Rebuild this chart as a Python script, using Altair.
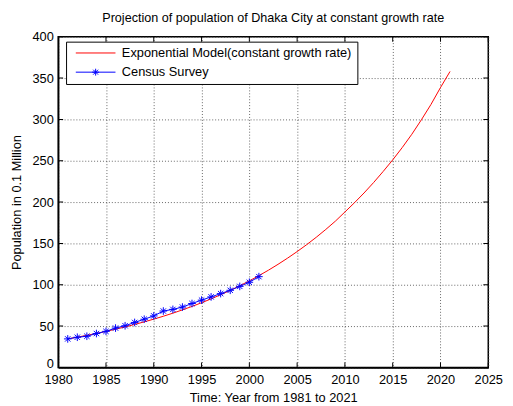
import altair as alt
import pandas as pd

MODEL = "Exponential Model(constant growth rate)"
CENSUS = "Census Survey"

model_years = list(range(1981, 2022))
model_values = [34.5, 36.6, 38.8, 41.1, 43.6, 46.2, 49.0, 52.0, 55.1, 58.4,
                61.9, 65.6, 69.6, 73.8, 78.2, 82.9, 87.9, 93.2, 98.8, 104.7,
                111.0, 117.6, 124.7, 132.2, 140.1, 148.5, 157.4, 166.9, 176.9, 188.0,
                199.2, 211.0, 223.6, 237.0, 251.0, 266.0, 282.0, 299.5, 318.0, 338.5,
                358.0]

census_years = list(range(1981, 2002))
census_values = [34.5, 36.5, 37.7, 41.0, 43.6, 47.6, 50.4, 54.4, 58.3, 62.3,
                 68.2, 70.2, 73.0, 77.3, 81.4, 85.3, 89.3, 93.3, 98.0, 103.0,
                 109.8]

x_ticks = list(range(1980, 2026, 5))
y_ticks = list(range(0, 401, 50))

model_df = pd.DataFrame({"year": model_years, "pop": model_values, "series": MODEL})
census_df = pd.DataFrame({"year": census_years, "pop": census_values, "series": CENSUS})
xtick_df = pd.DataFrame({"year": x_ticks})
ytick_df = pd.DataFrame({"pop": y_ticks})

W, H = 437, 336
FONT = "Liberation Sans"
STAR = "M0,-1V1M-1,0H1M-0.7,-0.7L0.7,0.7M-0.7,0.7L0.7,-0.7"
LEG_LINE = "M-0.32,0H7.74"
LEG_STAR = LEG_LINE + "M3.71,-0.7V0.7M3.01,0H4.41M3.21,-0.5L4.21,0.5M3.21,0.5L4.21,-0.5"

x_enc = alt.X("year:Q",
              scale=alt.Scale(domain=[1980, 2025], nice=False, zero=False),
              axis=alt.Axis(values=x_ticks, format="d", labelFlush=False,
                            title="Time: Year from 1981 to 2021"))
y_enc = alt.Y("pop:Q",
              scale=alt.Scale(domain=[0, 400], nice=False),
              axis=alt.Axis(values=y_ticks, labelFlush=False,
                            labelOffset={"condition": {"test": "datum.value === 0", "value": -4},
                                         "value": 0},
                            title="Population in 0.1 Million"))

color_scale = alt.Scale(domain=[MODEL, CENSUS], range=["#ff0000", "#0000ff"])

legend = alt.Legend(
    title=None, orient="none", legendX=8, legendY=5,
    fillColor="white", strokeColor="black", padding=5,
    symbolType={"expr": "datum.value === '" + CENSUS + "' ? '" + LEG_STAR + "' : '" + LEG_LINE + "'"},
    symbolSize=100, symbolStrokeWidth=1,
    labelFont=FONT, labelFontSize=13, labelColor="black", labelOffset=38.7,
    labelLimit=400, rowPadding=5.5,
)

red = alt.Chart(model_df).mark_line(strokeWidth=1).encode(
    x=x_enc, y=y_enc,
    color=alt.Color("series:N", scale=color_scale, legend=legend),
)
blue = alt.Chart(census_df).mark_line(strokeWidth=1).encode(
    x=x_enc, y=y_enc,
    color=alt.Color("series:N", scale=color_scale, legend=legend),
)
stars = alt.Chart(census_df).mark_point(shape=STAR, size=60, filled=False,
                                        strokeWidth=1, color="#0000ff", opacity=1).encode(
    x=x_enc, y=y_enc,
)

tick_style = dict(size=10, thickness=1, color="black", clip=True, opacity=1)
xt_bottom = alt.Chart(xtick_df).mark_tick(orient="vertical", **tick_style).encode(
    x=x_enc, y=alt.value(H))
xt_top = alt.Chart(xtick_df).mark_tick(orient="vertical", **tick_style).encode(
    x=x_enc, y=alt.value(0))
yt_left = alt.Chart(ytick_df).mark_tick(orient="horizontal", **tick_style).encode(
    y=y_enc, x=alt.value(0))
yt_right = alt.Chart(ytick_df).mark_tick(orient="horizontal", **tick_style).encode(
    y=y_enc, x=alt.value(W))

chart = alt.layer(red, blue, stars, xt_bottom, xt_top, yt_left, yt_right).properties(
    width=W, height=H,
    title=alt.Title("Projection of population of Dhaka City at constant growth rate",
                    font=FONT, fontSize=12.8, fontWeight="normal", color="black",
                    anchor="middle", offset=6),
    autosize=alt.AutoSizeParams(type="none"),
    padding={"left": 51, "top": 26, "right": 17, "bottom": 36},
).configure_view(
    stroke="black", strokeWidth=1.5
).configure_axis(
    labelFont=FONT, labelFontSize=13, labelColor="black",
    titleFont=FONT, titleFontSize=13, titleFontWeight="normal", titleColor="black",
    domainColor="black", domainWidth=1.5,
    tickSize=0,
    gridColor="#404040", gridDash=[1, 2], gridWidth=1, gridOpacity=0.8,
).configure_axisX(
    titlePadding=6, labelPadding=6
).configure_axisY(
    titlePadding=9, labelPadding=5
)

chart.save("out.html", embed_options={"renderer": "svg", "actions": False})
